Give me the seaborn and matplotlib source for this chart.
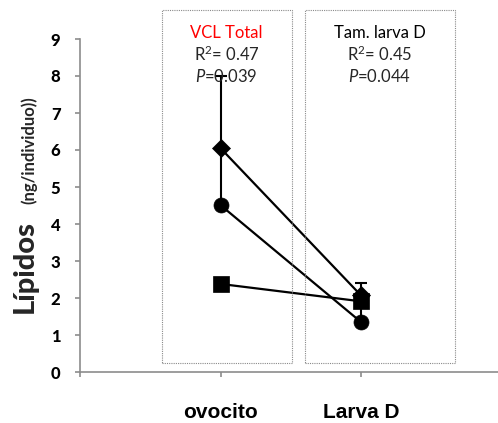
import matplotlib
matplotlib.use("Agg")
import matplotlib.pyplot as plt
import seaborn as sns
import pandas as pd
from matplotlib.patches import Rectangle

# Data
stages = ["ovocito", "Larva D"]
diamond_vals = [6.05, 2.07]
circle_vals = [4.51, 1.35]
square_vals = [2.38, 1.91]
diamond_err = [1.95, 0.33]
circle_err = [1.5, 0.45]
square_err = [0.1, 0.2]
yticks = list(range(0, 10))

sns.set_theme(style="white")
plt.rcParams["font.family"] = ["Lato", "DejaVu Sans"]
plt.rcParams["mathtext.fontset"] = "custom"
plt.rcParams["mathtext.rm"] = "Lato"
plt.rcParams["mathtext.it"] = "Lato:italic"

W, H = 498, 423
fig = plt.figure(figsize=(W / 100, H / 100), dpi=100)
ax = fig.add_axes([80 / W, 1 - 372 / H, 421.5 / W, 333 / H])

pos = [1, 2]
series = [
    ("diamond", diamond_vals, diamond_err, "D", 9.4),
    ("circle", circle_vals, circle_err, "o", 10.8),
    ("square", square_vals, square_err, "s", 11.0),
]
for name, vals, err, mk, ms in series:
    ax.errorbar(pos, vals, yerr=[[0, 0], err], fmt="none", ecolor="black",
                elinewidth=1.5, capsize=4.3, capthick=1.5, zorder=2)
    df = pd.DataFrame({"pos": pos, "value": vals})
    sns.lineplot(data=df, x="pos", y="value", ax=ax, color="black", lw=1.6,
                 marker=mk, markersize=ms, markeredgewidth=0.5,
                 markeredgecolor="black", zorder=3)

ax.set_xlim(0, 3)
ax.set_ylim(0, 9)
ax.set_yticks(yticks)
ax.set_yticklabels([str(t) for t in yticks], fontweight="black", fontsize=12)
ax.set_xticks([0, 1, 2, 3])
ax.set_xticklabels(["", stages[0], stages[1], ""], fontweight="bold",
                   fontsize=15, family=["Liberation Sans", "DejaVu Sans"])
ax.set_xlabel("")
ax.set_ylabel("")
axis_col = "#8c8c8c"
for s in ["top", "right"]:
    ax.spines[s].set_visible(False)
for s in ["left", "bottom"]:
    ax.spines[s].set_color(axis_col)
    ax.spines[s].set_linewidth(1.2)
ax.tick_params(axis="both", direction="out", length=3.6, width=1.2,
               color=axis_col, labelcolor="black")
ax.tick_params(axis="y", pad=10.5)
ax.tick_params(axis="x", pad=18.5)
ax.yaxis.set_ticks_position("left")
ax.xaxis.set_ticks_position("bottom")

# y-axis title in two sizes
fig.text(25 / W, 1 - 266 / H, "Lípidos", rotation=90, fontsize=21,
         fontweight="black", ha="center", va="center")
fig.text(29 / W, 1 - 150 / H, "(ng/individuo))", rotation=90, fontsize=12,
         fontweight="bold", ha="center", va="center")

# dotted annotation boxes
for x0, x1 in [(161.7, 291.7), (305, 455)]:
    fig.patches.append(Rectangle((x0 / W, 1 - 363 / H), (x1 - x0) / W,
                                 353 / H, transform=fig.transFigure,
                                 fill=False, edgecolor="#8a8a8a",
                                 linewidth=0.8, linestyle=(0, (1, 1))))

boxes = [
    (226.7, "VCL Total", "red", "R$^2$= 0.47", "$\\it{P}$=0.039"),
    (380, "Tam. larva D", "black", "R$^2$= 0.45", "$\\it{P}$=0.044"),
]
for xc, title, col, r2, p in boxes:
    fig.text(xc / W, 1 - 33 / H, title, color=col, fontsize=12,
             ha="center", va="center")
    fig.text(xc / W, 1 - 54 / H, r2, fontsize=12, ha="center", va="center")
    fig.text(xc / W, 1 - 77 / H, p, fontsize=12, ha="center", va="center")

fig.savefig("out.png", dpi=100)
